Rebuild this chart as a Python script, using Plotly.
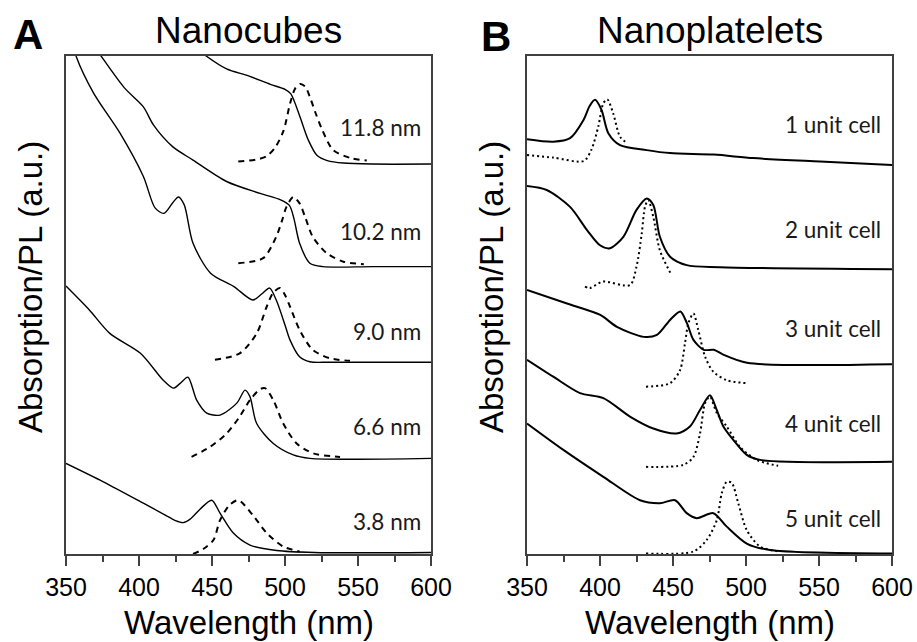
import plotly.graph_objects as go

# ---------------- Panel A: Nanocubes ----------------
nc118_abs_x = [425, 446, 460, 475, 490, 500, 504, 510, 516, 522, 529, 540, 560, 600]
nc118_abs_y = [10.5, 10.0, 9.74, 9.6, 9.43, 9.33, 9.24, 8.8, 8.31, 8.0, 7.9, 7.85, 7.83, 7.83]
nc118_pl_x = [468, 480, 487, 493, 499, 503.5, 507, 510.5, 514, 517, 521, 525, 533, 545, 556]
nc118_pl_y = [7.88, 7.92, 7.98, 8.15, 8.5, 9.05, 9.35, 9.44, 9.38, 9.18, 8.85, 8.55, 8.11, 7.95, 7.9]

nc102_abs_x = [360, 374, 390, 403, 410, 423, 437, 460, 483, 497, 503, 506, 510, 517, 526, 560, 600]
nc102_abs_y = [10.6, 10.0, 9.36, 8.98, 8.61, 8.18, 7.91, 7.48, 7.24, 7.11, 7.0, 6.75, 6.24, 5.84, 5.77, 5.77, 5.77]
nc102_pl_x = [468, 485, 494, 498, 501, 505.7, 510, 514, 519, 528.6, 540, 554]
nc102_pl_y = [5.84, 5.94, 6.37, 6.7, 6.97, 7.17, 7.04, 6.75, 6.37, 6.04, 5.87, 5.82]

nc90_abs_x = [350, 357, 369, 387, 403, 411, 417, 423, 427, 431, 437, 449, 465, 478, 484, 489.5, 494, 500, 503.4, 510, 517, 530, 600]
nc90_abs_y = [10.8, 9.99, 9.25, 8.45, 7.58, 6.95, 6.84, 7.05, 7.17, 7.01, 6.24, 5.64, 5.37, 5.10, 5.22, 5.34, 5.10, 4.60, 4.30, 3.96, 3.86, 3.85, 3.85]
nc90_pl_x = [452, 469, 480.6, 487.5, 492, 496.6, 500, 503.4, 510, 519, 530.8, 544.5]
nc90_pl_y = [3.90, 4.03, 4.43, 4.97, 5.25, 5.34, 5.2, 4.97, 4.50, 4.10, 3.93, 3.88]

nc66_abs_x = [350, 366, 380, 401, 416.6, 423.5, 428, 433.5, 439.5, 446.4, 455.5, 467, 472.6, 476, 480.6, 492, 505.7, 517, 600]
nc66_abs_y = [5.38, 4.90, 4.43, 4.03, 3.49, 3.33, 3.42, 3.55, 3.09, 2.83, 2.79, 3.03, 3.29, 3.16, 2.62, 2.22, 1.99, 1.92, 1.92]
nc66_pl_x = [436, 448.6, 460, 469, 476, 482.9, 486.3, 492, 498.8, 508, 519.4, 537.7]
nc66_pl_y = [1.95, 2.15, 2.42, 2.76, 3.09, 3.31, 3.33, 3.09, 2.62, 2.22, 2.02, 1.95]

nc38_abs_x = [350, 375.6, 403, 418, 425, 430.3, 435, 441.8, 449.8, 455.5, 464.6, 476, 494.3, 520, 600]
nc38_abs_y = [1.82, 1.45, 1.02, 0.78, 0.67, 0.63, 0.7, 0.9, 1.08, 0.82, 0.42, 0.18, 0.07, 0.03, 0.03]
nc38_pl_x = [437, 444, 451, 455.5, 462, 468, 478, 487.5, 498.8, 510]
nc38_pl_y = [0.0, 0.1, 0.28, 0.68, 0.98, 1.08, 0.78, 0.42, 0.15, 0.05]

nc_labels = ["11.8 nm", "10.2 nm", "9.0 nm", "6.6 nm", "3.8 nm"]
nc_label_y = [8.57, 6.47, 4.46, 2.56, 0.65]

# ---------------- Panel B: Nanoplatelets ----------------
np1_abs_x = [350, 368, 379.5, 388.6, 393, 396.6, 401, 405.7, 413.7, 432, 448, 478, 505, 550.7, 600]
np1_abs_y = [8.33, 8.28, 8.35, 8.71, 9.0, 9.12, 8.92, 8.45, 8.21, 8.11, 8.05, 8.02, 7.95, 7.88, 7.81]
np1_pl_x = [350, 368, 388.8, 394, 398.8, 402.3, 405, 409, 413.7, 418.5]
np1_pl_y = [8.01, 7.96, 7.89, 8.11, 8.58, 9.05, 9.13, 8.85, 8.38, 8.25]

np2_abs_x = [350, 363.5, 379.5, 391, 400, 406.8, 416, 425, 432, 436.5, 441, 448, 459.4, 482, 600]
np2_abs_y = [7.39, 7.31, 6.97, 6.51, 6.20, 6.14, 6.37, 6.91, 7.14, 7.01, 6.37, 5.97, 5.80, 5.76, 5.72]
np2_pl_x = [389.7, 393, 402, 420.5, 425, 428.6, 430.8, 433, 436.5, 441, 449]
np2_pl_y = [5.37, 5.34, 5.47, 5.40, 5.77, 6.44, 6.97, 7.11, 6.77, 6.10, 5.60]

np3_abs_x = [350, 377.4, 400.2, 411.6, 430, 439, 448, 455, 459.6, 464, 471, 477.9, 484.7, 500.7, 600]
np3_abs_y = [5.30, 5.03, 4.80, 4.56, 4.36, 4.40, 4.70, 4.87, 4.63, 4.30, 4.10, 4.10, 4.0, 3.84, 3.81]
np3_pl_x = [431.5, 448, 454.8, 458.2, 460.5, 464, 467.3, 472, 477.6, 486.8, 500.5]
np3_pl_y = [3.36, 3.43, 3.69, 4.23, 4.63, 4.83, 4.50, 3.96, 3.66, 3.49, 3.43]

np4_abs_x = [350, 368, 386.3, 402.3, 420.5, 436.5, 452.5, 461.6, 468.5, 475.3, 480, 484.5, 491.3, 500.5, 509.6, 600]
np4_abs_y = [3.90, 3.56, 3.23, 3.13, 2.76, 2.52, 2.42, 2.56, 2.89, 3.19, 2.89, 2.56, 2.29, 1.99, 1.89, 1.85]
np4_pl_x = [431.5, 457, 464, 468.5, 472, 475.3, 480, 486.8, 495.9, 507.3, 522]
np4_pl_y = [1.75, 1.79, 1.95, 2.42, 3.03, 3.16, 2.83, 2.56, 2.15, 1.89, 1.77]

np5_abs_x = [350, 374.9, 402.3, 427.4, 441, 451.4, 459.4, 466.2, 477.6, 486.8, 500.5, 516.4, 600]
np5_abs_y = [2.62, 2.09, 1.55, 1.08, 1.02, 1.08, 0.82, 0.72, 0.82, 0.55, 0.21, 0.08, 0.01]
np5_pl_x = [431.5, 464, 473, 480, 483.4, 486.8, 490.2, 494.7, 500.5, 509.6, 523]
np5_pl_y = [0.01, 0.05, 0.28, 0.68, 1.22, 1.45, 1.43, 1.02, 0.48, 0.15, 0.05]

np_labels = ["1 unit cell", "2 unit cell", "3 unit cell", "4 unit cell", "5 unit cell"]
np_label_y = [8.62, 6.51, 4.53, 2.62, 0.72]

x_ticks = [350, 400, 450, 500, 550, 600]

# ---------------- Figure ----------------
W, H = 917, 642
fig = go.Figure()

def add(x, y, xa, ya, width, dash):
    fig.add_trace(go.Scatter(x=x, y=y, xaxis=xa, yaxis=ya, mode="lines",
                             line=dict(color="black", width=width, dash=dash,
                                       shape="spline", smoothing=0.8),
                             showlegend=False, hoverinfo="skip"))

nc_abs = [(nc118_abs_x, nc118_abs_y), (nc102_abs_x, nc102_abs_y), (nc90_abs_x, nc90_abs_y),
          (nc66_abs_x, nc66_abs_y), (nc38_abs_x, nc38_abs_y)]
nc_pl = [(nc118_pl_x, nc118_pl_y), (nc102_pl_x, nc102_pl_y), (nc90_pl_x, nc90_pl_y),
         (nc66_pl_x, nc66_pl_y), (nc38_pl_x, nc38_pl_y)]
np_abs = [(np1_abs_x, np1_abs_y), (np2_abs_x, np2_abs_y), (np3_abs_x, np3_abs_y),
          (np4_abs_x, np4_abs_y), (np5_abs_x, np5_abs_y)]
np_pl = [(np1_pl_x, np1_pl_y), (np2_pl_x, np2_pl_y), (np3_pl_x, np3_pl_y),
         (np4_pl_x, np4_pl_y), (np5_pl_x, np5_pl_y)]

for x, y in nc_abs:
    add(x, y, "x", "y", 1.4, "solid")
for x, y in nc_pl:
    add(x, y, "x", "y", 2, "6px,5px")
for x, y in np_abs:
    add(x, y, "x2", "y2", 2, "solid")
for x, y in np_pl:
    add(x, y, "x2", "y2", 2, "2px,3px")

def px(v):
    return v / W

def py(v):
    return 1 - v / H

axis_col = "#404040"
xcommon = dict(range=[350, 600], tickvals=x_ticks, ticks="outside", ticklen=10, tickwidth=1.5,
               tickcolor=axis_col, showline=True, linecolor=axis_col, linewidth=1.5, mirror=True,
               showgrid=False, zeroline=False, automargin=False,
               tickfont=dict(family="Liberation Sans, Arial", size=25, color="black"),
               minor=dict(dtick=25, ticks="outside", ticklen=6, tickwidth=1.5, tickcolor=axis_col,
                          showgrid=False))
ycommon = dict(range=[0, 10], showticklabels=False, ticks="", showline=True, linecolor=axis_col,
               linewidth=1.5, mirror=True, showgrid=False, zeroline=False, automargin=False)

ydom = [py(554), py(56)]
fig.update_layout(
    template="none",
    width=W, height=H, margin=dict(l=0, r=0, t=0, b=0, pad=0, autoexpand=False),
    paper_bgcolor="white", plot_bgcolor="white", showlegend=False,
    xaxis=dict(domain=[px(66), px(431)], anchor="y", **xcommon),
    yaxis=dict(domain=ydom, anchor="x", **ycommon),
    xaxis2=dict(domain=[px(527), px(892)], anchor="y2", **xcommon),
    yaxis2=dict(domain=ydom, anchor="x2", **ycommon),
)

ann = []
lab_font = dict(family="Lato, Noto Sans", size=22.5, color="#1a1a1a")
for t, yy in zip(nc_labels, nc_label_y):
    ann.append(dict(x=594.7, y=yy, xref="x", yref="y", text=t, showarrow=False,
                    xanchor="right", yanchor="middle", font=lab_font))
for t, yy in zip(np_labels, np_label_y):
    ann.append(dict(x=594, y=yy, xref="x2", yref="y2", text=t, showarrow=False,
                    xanchor="right", yanchor="middle", font=lab_font))

big = dict(family="Liberation Sans, Arial", size=37, color="black")
ann.append(dict(x=px(248), y=py(31), xref="paper", yref="paper", text="Nanocubes",
                showarrow=False, xanchor="center", yanchor="middle", font=big))
ann.append(dict(x=px(709.5), y=py(31), xref="paper", yref="paper", text="Nanoplatelets",
                showarrow=False, xanchor="center", yanchor="middle", font=big))
letter = dict(family="Liberation Sans, Arial", size=42, color="black")
ann.append(dict(x=px(28), y=py(34), xref="paper", yref="paper", text="<b>A</b>",
                showarrow=False, xanchor="center", yanchor="middle", font=letter))
ann.append(dict(x=px(495.5), y=py(37), xref="paper", yref="paper", text="<b>B</b>",
                showarrow=False, xanchor="center", yanchor="middle", font=letter))
axt = dict(family="Liberation Sans, Arial", size=33, color="black")
ann.append(dict(x=px(248.5), y=py(622), xref="paper", yref="paper", text="Wavelength (nm)",
                showarrow=False, xanchor="center", yanchor="middle", font=axt))
ann.append(dict(x=px(709.5), y=py(622), xref="paper", yref="paper", text="Wavelength (nm)",
                showarrow=False, xanchor="center", yanchor="middle", font=axt))
ann.append(dict(x=px(30), y=py(287), xref="paper", yref="paper", text="Absorption/PL (a.u.)",
                showarrow=False, xanchor="center", yanchor="middle", textangle=-90, font=axt))
ann.append(dict(x=px(491), y=py(287), xref="paper", yref="paper", text="Absorption/PL (a.u.)",
                showarrow=False, xanchor="center", yanchor="middle", textangle=-90, font=axt))
fig.update_layout(annotations=ann)

fig.write_html("out.html")
